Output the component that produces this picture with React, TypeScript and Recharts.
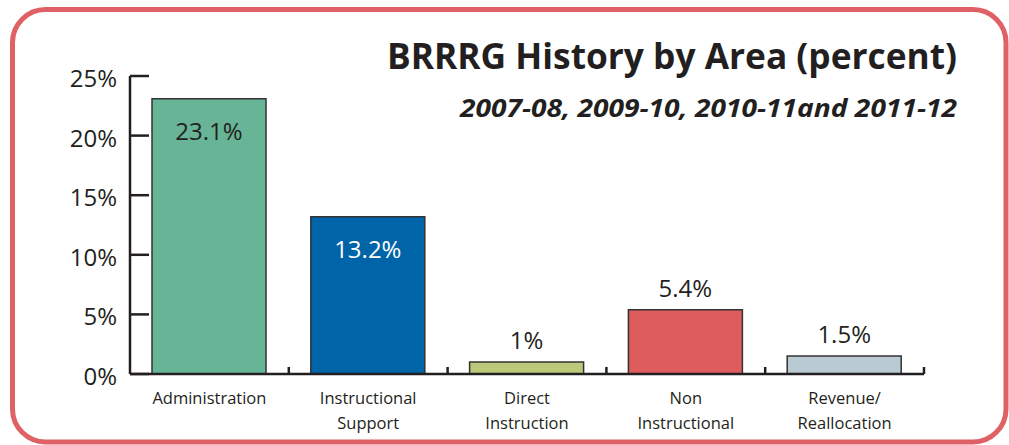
import { BarChart, Bar, XAxis, YAxis, Cell, LabelList } from 'recharts'

const categories = ['Administration', 'Instructional\nSupport', 'Direct\nInstruction', 'Non\nInstructional', 'Revenue/\nReallocation']
const values = [23.1, 13.2, 1, 5.4, 1.5]
const valueLabels = ['23.1%', '13.2%', '1%', '5.4%', '1.5%']
const barColors = ['#67b596', '#0064a8', '#bcc97b', '#de5c5e', '#b9cad3']
const insideLabel = [true, true, false, false, false]
const insideLabelColors = ['#231f20', '#ffffff', '#231f20', '#231f20', '#231f20']
const yTicks = [0, 5, 10, 15, 20, 25]

const FONT = '"Open Sans", "Noto Sans", sans-serif'
const INK = '#231f20'

const data = categories.map((c, i) => ({ name: c, value: values[i], label: valueLabels[i] }))

function YTick(props: any) {
  const { x, y, payload } = props
  return (
    <g>
      <line x1={x} x2={x + 19} y1={y} y2={y} stroke={INK} strokeWidth={2.5} />
      <text x={x - 13} y={y + 11} textAnchor="end" fontSize={24} fill={INK} fontFamily={FONT}>
        {payload.value}%
      </text>
    </g>
  )
}

function XTick(props: any) {
  const { x, y, payload } = props
  const half = payload.offset || 79.4
  const lines = String(payload.value).split('\n')
  return (
    <g>
      <line x1={x + half} x2={x + half} y1={y} y2={y - 7} stroke={INK} strokeWidth={2.5} />
      {lines.map((l, i) => (
        <text key={i} x={x} y={y + 30 + i * 25} textAnchor="middle" fontSize={16.5} fill={INK} fontFamily={FONT}>
          {l}
        </text>
      ))}
    </g>
  )
}

function ValueLabel(props: any) {
  const { x, y, width, index } = props
  const inside = insideLabel[index]
  return (
    <text
      x={x + width / 2}
      y={inside ? y + 41 : y - 13}
      textAnchor="middle"
      fontSize={24}
      fill={inside ? insideLabelColors[index] : INK}
      fontFamily={FONT}
    >
      {valueLabels[index]}
    </text>
  )
}

export default function App() {
  return (
    <div style={{ position: 'absolute', left: 0, top: 0, width: 1009, height: 445, background: '#fff' }}>
      <BarChart width={1009} height={445} data={data} margin={{ top: 76, right: 85, left: 0, bottom: 11 }}>
        <YAxis
          width={130}
          domain={[0, 25]}
          ticks={yTicks}
          tickSize={0}
          tickMargin={0}
          tickLine={false}
          axisLine={{ stroke: INK, strokeWidth: 2.5 }}
          tick={<YTick />}
        />
        <XAxis
          dataKey="name"
          height={60}
          tickSize={0}
          tickMargin={0}
          tickLine={false}
          interval={0}
          axisLine={{ stroke: INK, strokeWidth: 2.5 }}
          tick={<XTick />}
        />
        <Bar dataKey="value" barSize={114} stroke="#333" strokeWidth={1.5} isAnimationActive={false}>
          {data.map((d, i) => (
            <Cell key={d.name} fill={barColors[i]} />
          ))}
          <LabelList dataKey="label" content={<ValueLabel />} />
        </Bar>
      </BarChart>
      <svg width={1009} height={445} style={{ position: 'absolute', left: 0, top: 0, pointerEvents: 'none' }}>
        <rect x={12.5} y={9.5} width={993.5} height={432.5} rx={33} fill="none" stroke="#e06165" strokeWidth={5} />
        <text x={957} y={69} textAnchor="end" fontSize={36} fontWeight={700} fill={INK} fontFamily={FONT}
          textLength={570} lengthAdjust="spacingAndGlyphs">
          BRRRG History by Area (percent)
        </text>
        <text x={957} y={117} textAnchor="end" fontSize={25} fontWeight={700} fontStyle="italic" fill={INK}
          fontFamily={FONT} textLength={497} lengthAdjust="spacingAndGlyphs">
          2007-08, 2009-10, 2010-11and 2011-12
        </text>
      </svg>
    </div>
  )
}
